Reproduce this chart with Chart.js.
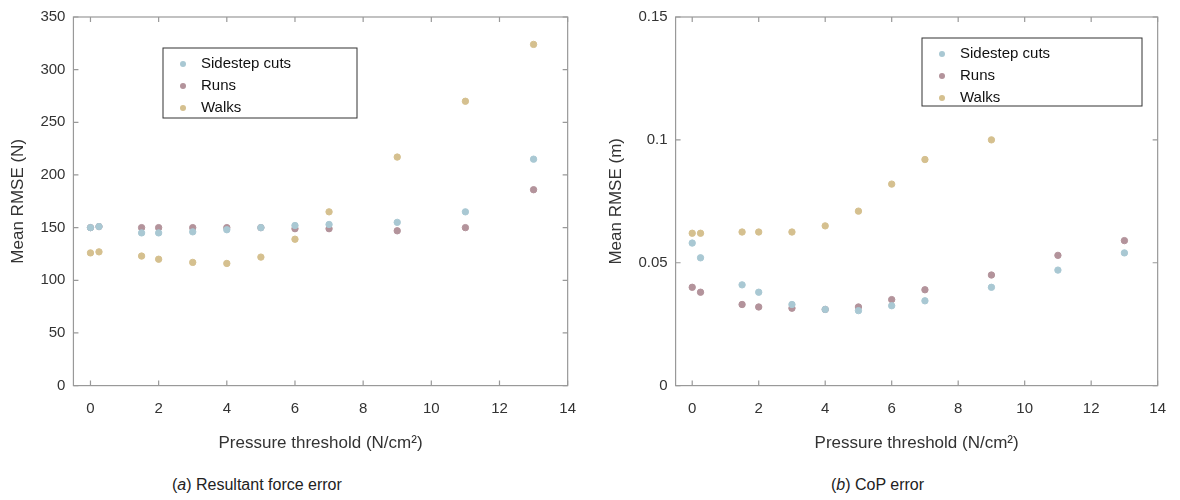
<!DOCTYPE html>
<html>
<head>
<meta charset="utf-8">
<script src="https://cdn.jsdelivr.net/npm/chart.js@4"></script>
<style>
  body { margin: 0; background: #fff; font-family: "Liberation Sans", Arial, sans-serif; }
  .wrap { position: relative; width: 1180px; height: 500px; }
  canvas { position: absolute; top: 0; }
  .cap { position: absolute; top: 476px; font-size: 16px; color: #222; }
</style>
</head>
<body>
<div class="wrap">
  <canvas id="left" style="left:0" width="590" height="470"></canvas>
  <canvas id="right" style="left:590px" width="590" height="470"></canvas>
  <div class="cap" style="left:172px">(<i>a</i>) Resultant force error</div>
  <div class="cap" style="left:831px">(<i>b</i>) CoP error</div>
</div>
<script>
const thresholds = [0, 0.25, 1.5, 2, 3, 4, 5, 6, 7, 9, 11, 13];
const seriesNames = ['Sidestep cuts', 'Runs', 'Walks'];
const colors = ['#a9c8d3', '#b3939b', '#d5c08f'];

const forceSidestep = [150, 151, 145, 145, 146, 148, 150, 152, 153, 155, 165, 215];
const forceRuns = [150, 151, 150, 150, 150, 150, 150, 149, 149, 147, 150, 186];
const forceWalks = [126, 127, 123, 120, 117, 116, 122, 139, 165, 217, 270, 324];

const copSidestep = [0.058, 0.052, 0.041, 0.038, 0.033, 0.031, 0.0305, 0.0325, 0.0345, 0.040, 0.047, 0.054];
const copRuns = [0.040, 0.038, 0.033, 0.032, 0.0315, 0.031, 0.032, 0.035, 0.039, 0.045, 0.053, 0.059];
const copWalks = [0.062, 0.062, 0.0625, 0.0625, 0.0625, 0.065, 0.071, 0.082, 0.092, 0.100];

const font = { family: '"Liberation Sans", Arial, sans-serif', size: 15 };

function points(vals) {
  return vals.map((v, i) => ({ x: thresholds[i], y: v }));
}

// frame around plot area plus mirrored ticks, and the boxed legend
const framePlugin = {
  id: 'frame',
  afterDraw(chart, args, opts) {
    const c = chart.ctx, a = chart.chartArea;
    const xs = chart.scales.x, ys = chart.scales.y;
    c.save();
    c.strokeStyle = '#999';
    c.lineWidth = 1.2;
    c.strokeRect(a.left, a.top, a.right - a.left, a.bottom - a.top);
    c.beginPath();
    xs.ticks.forEach(t => {
      const px = xs.getPixelForValue(t.value);
      c.moveTo(px, a.top); c.lineTo(px, a.top + 5);
      c.moveTo(px, a.bottom); c.lineTo(px, a.bottom - 5);
    });
    ys.ticks.forEach(t => {
      const py = ys.getPixelForValue(t.value);
      c.moveTo(a.left, py); c.lineTo(a.left + 5, py);
      c.moveTo(a.right, py); c.lineTo(a.right - 5, py);
    });
    c.stroke();
    // legend
    const L = opts.box;
    c.strokeStyle = '#333';
    c.lineWidth = 1;
    c.fillStyle = '#fff';
    c.fillRect(L.x, L.y, L.w, L.h);
    c.strokeRect(L.x, L.y, L.w, L.h);
    c.font = '15px "Liberation Sans", Arial, sans-serif';
    c.textBaseline = 'middle';
    seriesNames.forEach((n, i) => {
      const yy = L.y + 16 + i * 22;
      c.fillStyle = colors[i];
      c.beginPath(); c.arc(L.x + 20, yy, 3, 0, Math.PI * 2); c.fill();
      c.fillStyle = '#111';
      c.fillText(n, L.x + 38, yy);
    });
    c.restore();
  }
};

function makeChart(id, data, yMax, yStep, yTitle, pad, box, fmt) {
  new Chart(document.getElementById(id), {
    type: 'scatter',
    data: {
      datasets: data.map((d, i) => ({
        label: seriesNames[i],
        data: points(d),
        backgroundColor: colors[i],
        borderColor: colors[i],
        pointRadius: 3.2,
        pointHoverRadius: 3.2
      }))
    },
    options: {
      responsive: false,
      animation: false,
      layout: { padding: pad },
      plugins: { legend: { display: false }, tooltip: { enabled: false }, frame: { box } },
      scales: {
        x: {
          min: -0.5, max: 14,
          afterBuildTicks: s => { s.ticks = [0, 2, 4, 6, 8, 10, 12, 14].map(v => ({ value: v })); },
          grid: { display: false, drawTicks: false },
          border: { display: false },
          ticks: { color: '#333', font, padding: 14 },
          title: { display: true, text: 'Pressure threshold (N/cm²)', color: '#333', font: { ...font, size: 17 }, padding: { top: 2 } }
        },
        y: {
          min: 0, max: yMax,
          ticks: { stepSize: yStep, color: '#333', font, padding: 8, callback: fmt },
          grid: { display: false, drawTicks: false },
          border: { display: false },
          title: { display: true, text: yTitle, color: '#333', font: { ...font, size: 17 } }
        }
      }
    },
    plugins: [framePlugin]
  });
}

makeChart('left', [forceSidestep, forceRuns, forceWalks], 350, 50, 'Mean RMSE (N)',
  { top: 15, right: 14, bottom: 12, left: 4 },
  { x: 163, y: 48, w: 194, h: 70 }, v => v);
makeChart('right', [copSidestep, copRuns, copWalks], 0.15, 0.05, 'Mean RMSE (m)',
  { top: 15, right: 0, bottom: 12, left: 12 },
  { x: 332, y: 38, w: 220, h: 68 }, v => v === 0 ? '0' : String(+v.toFixed(2)));
</script>
</body>
</html>
